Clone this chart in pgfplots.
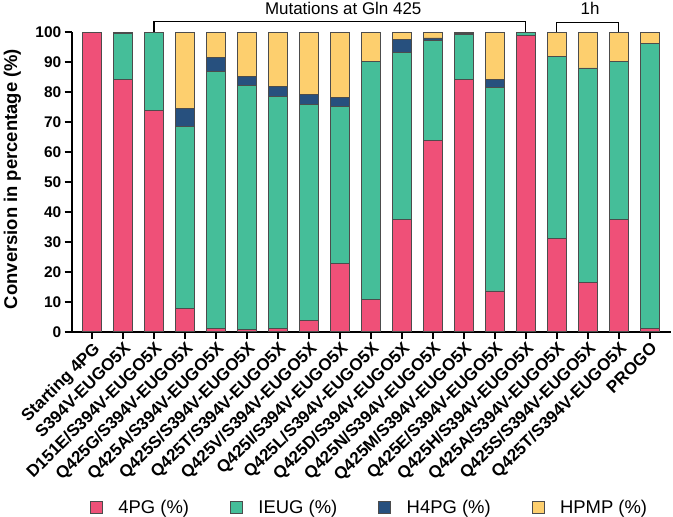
\documentclass[border=0pt]{standalone}
\usepackage{pgfplots}
\pgfplotsset{compat=1.18}
\usepackage{fontspec}
\setmainfont{Liberation Sans}
\definecolor{cPG}{HTML}{EF5078}
\definecolor{cEUG}{HTML}{45BE99}
\definecolor{cH4}{HTML}{27507E}
\definecolor{cHP}{HTML}{FDCF6E}
\pgfplotsset{sq/.style={legend image code/.code={\draw[##1,line width=0.8bp] (0bp,-6bp) rectangle (12bp,6bp); \node[draw=none,fill=none,inner sep=0pt,outer sep=0pt,minimum size=0pt] at (28bp,0bp) {};}}}
\begin{document}
\begin{tikzpicture}
\begin{axis}[
  at={(0,0)}, anchor=south west,
  scale only axis, width=599bp, height=299.4bp,
  ybar stacked, bar width=0.62,
  xmin=-0.655, xmax=18.68, ymin=0, ymax=100,
  enlargelimits=false, clip=false,
  axis x line*=bottom, axis y line*=left,
  axis line style={-, line width=1.8bp, black},
  tick align=outside, major tick length=7bp,
  tick style={line width=1.8bp, black},
  ytick={0,10,...,100},
  xtick={0,...,18},
  xticklabels={Starting 4PG,S394V-EUGO5X,D151E/S394V-EUGO5X,Q425G/S394V-EUGO5X,Q425A/S394V-EUGO5X,Q425S/S394V-EUGO5X,Q425T/S394V-EUGO5X,Q425V/S394V-EUGO5X,Q425I/S394V-EUGO5X,Q425L/S394V-EUGO5X,Q425D/S394V-EUGO5X,Q425N/S394V-EUGO5X,Q425M/S394V-EUGO5X,Q425E/S394V-EUGO5X,Q425H/S394V-EUGO5X,Q425A/S394V-EUGO5X,Q425S/S394V-EUGO5X,Q425T/S394V-EUGO5X,PROGO},
  /pgf/number format/assume math mode=true,
  yticklabel style={font=\bfseries\fontsize{15.5}{18}\selectfont},
  xticklabel style={font=\bfseries\fontsize{17}{19}\selectfont, rotate=45, anchor=north east, inner sep=1.5bp},
  ylabel={Conversion in percentage (\%)},
  ylabel style={font=\bfseries\fontsize{18.5}{21}\selectfont, at={(axis description cs:-0.0988,0.51)}, anchor=center},
  legend columns=4,
  legend style={draw=none, fill=none, at={(axis description cs:0.0306,-0.587)}, anchor=west, inner sep=0pt, outer sep=0pt,
    font=\fontsize{18.5}{20}\selectfont, nodes={inner sep=0bp},
    /tikz/every even column/.append style={column sep=41bp}},
  every axis plot/.append style={draw=black!70, line width=0.8bp},
]
\addplot+[fill=cPG, draw=black!70, sq] coordinates {(0,100) (1,84.3) (2,73.8) (3,7.8) (4,1.1) (5,0.7) (6,1.1) (7,3.7) (8,22.7) (9,10.7) (10,37.4) (11,63.9) (12,84.3) (13,13.6) (14,98.9) (15,31.2) (16,16.3) (17,37.5) (18,1.1)};
\addplot+[fill=cEUG, draw=black!70, sq] coordinates {(0,0) (1,15.2) (2,26.2) (3,60.7) (4,85.9) (5,81.6) (6,77.4) (7,72.2) (8,52.5) (9,79.7) (10,55.8) (11,33.3) (12,14.9) (13,68.0) (14,1.1) (15,60.8) (16,71.8) (17,52.8) (18,95.3)};
\addplot+[fill=cH4, draw=black!70, sq] coordinates {(0,0) (1,0.3) (2,0) (3,6.1) (4,4.6) (5,3.0) (6,3.3) (7,3.3) (8,3.1) (9,0) (10,4.5) (11,0.9) (12,0.3) (13,2.7) (14,0) (15,0) (16,0) (17,0) (18,0)};
\addplot+[fill=cHP, draw=black!70, sq] coordinates {(0,0) (1,0.2) (2,0) (3,25.4) (4,8.4) (5,14.7) (6,18.2) (7,20.8) (8,21.7) (9,9.6) (10,2.3) (11,1.9) (12,0.5) (13,15.7) (14,0) (15,8.0) (16,11.9) (17,9.7) (18,3.6)};
\legend{4PG (\%), IEUG (\%), H4PG (\%), HPMP (\%)}
\draw[line width=1.3bp] (axis cs:2,100) -- (axis cs:2,103.5) -- (axis cs:14,103.5) -- (axis cs:14,100);
\draw[line width=1.3bp] (axis cs:15,100) -- (axis cs:15,103.2) -- (axis cs:17,103.2) -- (axis cs:17,100);
\node[anchor=base, font=\fontsize{17}{20}\selectfont, inner sep=0pt] at (axis cs:8.11,105.8) {Mutations at Gln 425};
\node[anchor=base, font=\fontsize{17}{20}\selectfont, inner sep=0pt] at (axis cs:16.08,105.8) {1h};
\end{axis}
\pgfresetboundingbox
\useasboundingbox (-71.7bp,-185.3bp) rectangle (601.3bp,331.7bp);
\end{tikzpicture}
\end{document}
